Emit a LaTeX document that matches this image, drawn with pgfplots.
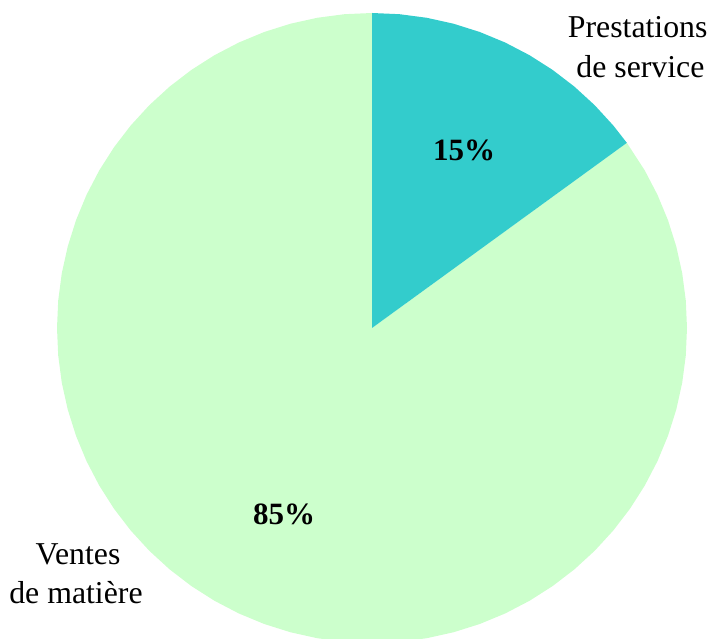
\documentclass[border=0pt]{standalone}
\usepackage{pgfplots}
\pgfplotsset{compat=1.18}
\usepackage{fontspec}
\setmainfont{Liberation Serif}
\definecolor{sliceA}{RGB}{51,204,204}
\definecolor{sliceB}{RGB}{204,255,204}
\begin{document}
\begin{tikzpicture}
\useasboundingbox (0,0) rectangle (717pt,639pt);
\begin{axis}[
  at={(0,0)}, anchor=south west,
  scale only axis, width=717pt, height=639pt,
  xmin=-372, xmax=345, ymin=-311, ymax=328,
  hide axis, clip=true,
]
% Ventes de matière: 85% (from 36 deg clockwise to -270 deg)
\addplot[draw=none, fill=sliceB, data cs=polar] coordinates {
(0,0) (36,315) (30,315) (25,315) (20,315) (15,315) (10,315) (5,315) (0,315)
(-5,315) (-10,315) (-15,315) (-20,315) (-25,315) (-30,315) (-35,315) (-40,315)
(-45,315) (-50,315) (-55,315) (-60,315) (-65,315) (-70,315) (-75,315) (-80,315)
(-85,315) (-90,315) (-95,315) (-100,315) (-105,315) (-110,315) (-115,315) (-120,315)
(-125,315) (-130,315) (-135,315) (-140,315) (-145,315) (-150,315) (-155,315) (-160,315)
(-165,315) (-170,315) (-175,315) (-180,315) (-185,315) (-190,315) (-195,315) (-200,315)
(-205,315) (-210,315) (-215,315) (-220,315) (-225,315) (-230,315) (-235,315) (-240,315)
(-245,315) (-250,315) (-255,315) (-260,315) (-265,315) (-270,315)
} -- cycle;
% Prestations de service: 15% (from 90 deg clockwise to 36 deg)
\addplot[draw=none, fill=sliceA, data cs=polar] coordinates {
(0,0) (90,315) (85,315) (80,315) (75,315) (70,315) (65,315) (60,315) (55,315)
(50,315) (45,315) (40,315) (36,315)
} -- cycle;
\node[anchor=base, font=\fontsize{31}{40}\selectfont\bfseries] at (axis cs:92,167) {15\%};
\node[anchor=base, font=\fontsize{31}{40}\selectfont\bfseries] at (axis cs:-88,-197) {85\%};
\node[anchor=base east, font=\fontsize{31.8}{40}\selectfont] at (axis cs:339,290) {Prestations};
\node[anchor=base east, font=\fontsize{31.8}{40}\selectfont] at (axis cs:336,250) {de service};
\node[anchor=base, font=\fontsize{31.8}{40}\selectfont] at (axis cs:-294,-237) {Ventes};
\node[anchor=base, font=\fontsize{31.8}{40}\selectfont] at (axis cs:-296,-276) {de matière};
\end{axis}
\end{tikzpicture}
\end{document}
